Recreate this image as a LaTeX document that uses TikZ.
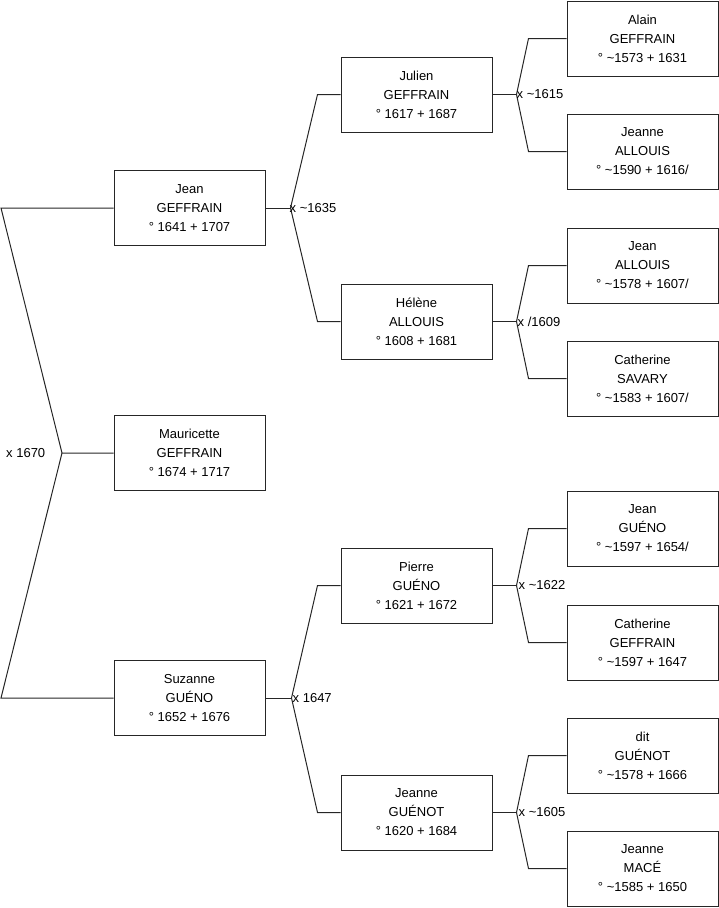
\documentclass[tikz,border=0pt]{standalone}
\usepackage{fontspec}
\setmainfont{Liberation Sans}
\begin{document}
\begin{tikzpicture}[x=1pt,y=-1pt,
  person/.style={draw=black!85, line width=1pt, minimum width=151pt, minimum height=75pt, inner sep=0pt, align=center, font=\fontsize{13}{19}\selectfont},
  link/.style={line width=1pt, black!85},
  lbl/.style={font=\fontsize{13}{19}\selectfont, inner sep=0pt, anchor=west}]
\useasboundingbox (0,0) rectangle (719,908);
% generation 0/1
\node[person] (jean) at (189.5,208) {Jean\\GEFFRAIN\\° 1641 + 1707};
\node[person] (mau)  at (189.5,453) {Mauricette\\GEFFRAIN\\° 1674 + 1717};
\node[person] (suz)  at (189.5,698) {Suzanne\\GUÉNO\\° 1652 + 1676};
% generation 2
\node[person] (jul)  at (416.5,94.5) {Julien\\GEFFRAIN\\° 1617 + 1687};
\node[person] (hel)  at (416.5,321.5) {Hélène\\ALLOUIS\\° 1608 + 1681};
\node[person] (pie)  at (416.5,585.5) {Pierre\\GUÉNO\\° 1621 + 1672};
\node[person] (jng)  at (416.5,812.5) {Jeanne\\GUÉNOT\\° 1620 + 1684};
% generation 3
\node[person] (ala)  at (642.5,38.5) {Alain\\GEFFRAIN\\° \textasciitilde1573 + 1631};
\node[person] (jna)  at (642.5,151.5) {Jeanne\\ALLOUIS\\° \textasciitilde1590 + 1616/};
\node[person] (jea)  at (642.5,265.5) {Jean\\ALLOUIS\\° \textasciitilde1578 + 1607/};
\node[person] (cas)  at (642.5,378.5) {Catherine\\SAVARY\\° \textasciitilde1583 + 1607/};
\node[person] (jeg)  at (642.5,528.5) {Jean\\GUÉNO\\° \textasciitilde1597 + 1654/};
\node[person] (cag)  at (642.5,642.5) {Catherine\\GEFFRAIN\\° \textasciitilde1597 + 1647};
\node[person] (dit)  at (642.5,755.5) {dit\\GUÉNOT\\° \textasciitilde1578 + 1666};
\node[person] (jnm)  at (642.5,868.5) {Jeanne\\MACÉ\\° \textasciitilde1585 + 1650};
% root connectors
\coordinate (rt) at (1,208);
\coordinate (rm) at (62,453);
\coordinate (rb) at (1,698);
\draw[link] (jean.west) -- (rt) -- (rm) -- (mau.west);
\draw[link] (rm) -- (rb) -- (suz.west);
\node[lbl] (l0) at (6,453) {x 1670};
% generation 1 -> 2
\coordinate (j1) at ([xshift=25pt]jean.east);
\coordinate (j2) at ([xshift=26pt]suz.east);
\draw[link] (jean.east) -- (j1);
\draw[link] (jul.west) -- ++(-23,0) -- (j1) -- ([xshift=-23pt]hel.west) -- (hel.west);
\node[lbl] (l1) at ([xshift=-1pt]j1) {x \textasciitilde1635};
\draw[link] (suz.east) -- (j2);
\draw[link] (pie.west) -- ++(-23,0) -- (j2) -- ([xshift=-23pt]jng.west) -- (jng.west);
\node[lbl] (l2) at ([xshift=1pt]j2) {x 1647};
% generation 2 -> 3
\coordinate (k1) at ([xshift=24pt]jul.east);
\coordinate (k2) at ([xshift=24pt]hel.east);
\coordinate (k3) at ([xshift=24pt]pie.east);
\coordinate (k4) at ([xshift=24pt]jng.east);
\draw[link] (jul.east) -- (k1);
\draw[link] (ala.west) -- ++(-38,0) -- (k1) -- ([xshift=-38pt]jna.west) -- (jna.west);
\node[lbl] (m1) at ([xshift=0pt]k1) {x \textasciitilde1615};
\draw[link] (hel.east) -- (k2);
\draw[link] (jea.west) -- ++(-38,0) -- (k2) -- ([xshift=-38pt]cas.west) -- (cas.west);
\node[lbl] (m2) at ([xshift=1pt]k2) {x /1609};
\draw[link] (pie.east) -- (k3);
\draw[link] (jeg.west) -- ++(-38,0) -- (k3) -- ([xshift=-38pt]cag.west) -- (cag.west);
\node[lbl] (m3) at ([xshift=2pt]k3) {x \textasciitilde1622};
\draw[link] (jng.east) -- (k4);
\draw[link] (dit.west) -- ++(-38,0) -- (k4) -- ([xshift=-38pt]jnm.west) -- (jnm.west);
\node[lbl] (m4) at ([xshift=2pt]k4) {x \textasciitilde1605};
\end{tikzpicture}
\end{document}
